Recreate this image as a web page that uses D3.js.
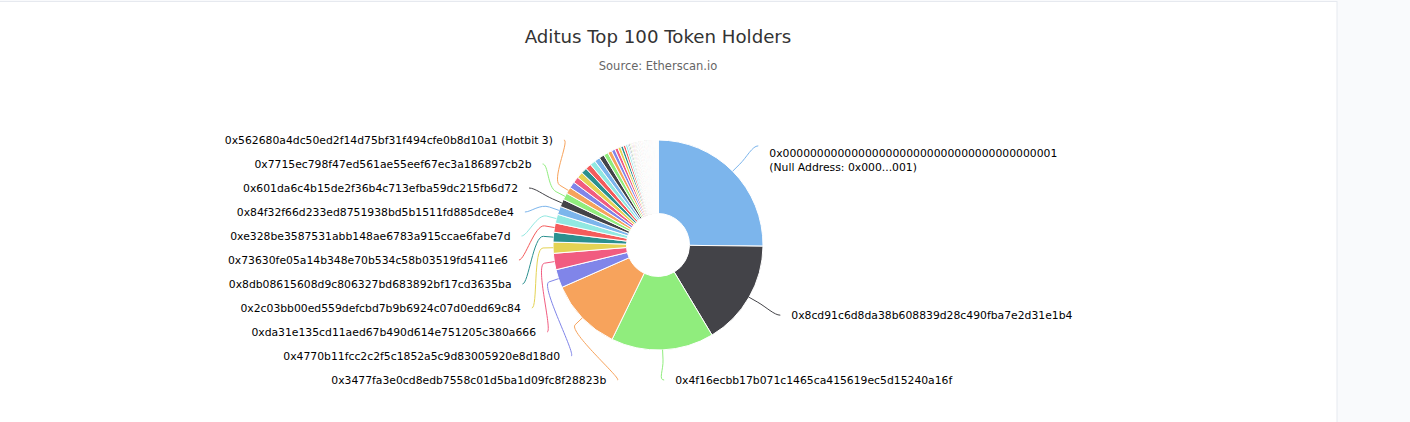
<!DOCTYPE html>
<html>
<head>
<meta charset="utf-8">
<script src="https://cdnjs.cloudflare.com/ajax/libs/d3/7.8.5/d3.min.js"></script>
<style>
  html, body { margin: 0; padding: 0; background: #f9fafc; }
  svg { display: block; font-family: "DejaVu Sans", "Lucida Grande", sans-serif; }
</style>
</head>
<body>
<svg id="chart" width="1410" height="422"></svg>
<script>
var chartTitle = "Aditus Top 100 Token Holders";
var chartSubtitle = "Source: Etherscan.io";

// % of supply per holder, rank 1..100
var shares = [
    25.0, 16.1, 15.7, 11.1, 2.8, 2.5, 1.7, 1.5, 1.4, 1.35,
    1.25, 1.15, 1.05, 1.0, 0.98, 0.95, 0.93, 0.9, 0.88, 0.85,
    0.83, 0.8, 0.7, 0.62, 0.55, 0.5, 0.45, 0.4, 0.36, 0.32,
    0.2, 0.19, 0.18, 0.17, 0.16, 0.15, 0.14, 0.13, 0.12, 0.11,
    0.11, 0.10, 0.10, 0.10, 0.09, 0.09, 0.09, 0.08, 0.08, 0.08,
    0.08, 0.07, 0.07, 0.07, 0.07, 0.07, 0.06, 0.06, 0.06, 0.06,
    0.06, 0.06, 0.05, 0.05, 0.05, 0.05, 0.05, 0.05, 0.05, 0.05,
    0.05, 0.04, 0.04, 0.04, 0.04, 0.04, 0.04, 0.04, 0.04, 0.04,
    0.04, 0.04, 0.04, 0.03, 0.03, 0.03, 0.03, 0.03, 0.03, 0.03,
    0.03, 0.03, 0.03, 0.03, 0.03, 0.03, 0.02, 0.02, 0.02, 0.02
];

// only the biggest 14 holders get a data label
var holderLabels = [
    "0x0000000000000000000000000000000000000001\n(Null Address: 0x000...001)",
    "0x8cd91c6d8da38b608839d28c490fba7e2d31e1b4",
    "0x4f16ecbb17b071c1465ca415619ec5d15240a16f",
    "0x3477fa3e0cd8edb7558c01d5ba1d09fc8f28823b",
    "0x4770b11fcc2c2f5c1852a5c9d83005920e8d18d0",
    "0xda31e135cd11aed67b490d614e751205c380a666",
    "0x2c03bb00ed559defcbd7b9b6924c07d0edd69c84",
    "0x8db08615608d9c806327bd683892bf17cd3635ba",
    "0x73630fe05a14b348e70b534c58b03519fd5411e6",
    "0xe328be3587531abb148ae6783a915ccae6fabe7d",
    "0x84f32f66d233ed8751938bd5b1511fd885dce8e4",
    "0x601da6c4b15de2f36b4c713efba59dc215fb6d72",
    "0x7715ec798f47ed561ae55eef67ec3a186897cb2b",
    "0x562680a4dc50ed2f14d75bf31f494cfe0b8d10a1 (Hotbit 3)"
];

var palette = ["#7cb5ec", "#434348", "#90ed7d", "#f7a35c", "#8085e9",
               "#f15c80", "#e4d354", "#2b908f", "#f45b5b", "#91e8e1"];

var svg = d3.select("#chart");

// card the chart sits in
svg.append("rect")
    .attr("x", -2).attr("y", 1.5)
    .attr("width", 1339).attr("height", 440)
    .attr("fill", "#fff")
    .attr("stroke", "#e6e9ef");

svg.append("text")
    .attr("x", 658).attr("y", 43)
    .attr("text-anchor", "middle")
    .attr("font-size", 18.2)
    .attr("fill", "#333333")
    .text(chartTitle);

svg.append("text")
    .attr("x", 658).attr("y", 70)
    .attr("text-anchor", "middle")
    .attr("font-size", 11.5)
    .attr("fill", "#666666")
    .text(chartSubtitle);

var cx = 658, cy = 245, radius = 105, inner = 31.5;
var labelDist = 36, R = radius + labelDist,
    connOffset = 10, textGap = 11, rowGap = 24;
var labelTop = cy - radius, labelBottom = cy + R - 6;

var pie = d3.pie().sort(null).value(function(d){ return d; });
var arcs = pie(shares);
var arc = d3.arc().innerRadius(inner).outerRadius(radius);

var g = svg.append("g");

g.selectAll("path.slice")
    .data(arcs)
    .join("path")
    .attr("class", "slice")
    .attr("transform", "translate(" + cx + "," + cy + ")")
    .attr("d", arc)
    .attr("fill", function(d, i){ return palette[i % palette.length]; })
    .attr("stroke", "#fff")
    .attr("stroke-width", 1)
    .attr("stroke-linejoin", "round");

var labels = holderLabels.map(function(text, i){
    var a = (arcs[i].startAngle + arcs[i].endAngle) / 2;
    return {
        i: i,
        lines: text.split("\n"),
        a: a,
        left: a > Math.PI,
        natY: cy - R * Math.cos(a)
    };
});

// push labels apart on one side, keep them inside the bounds
function spread(list){
    list.sort(function(p, q){ return p.natY - q.natY; });
    list.forEach(function(p, k){
        p.y = Math.max(p.natY, k ? list[k-1].y + rowGap : labelTop);
    });
    for (var k = list.length - 1; k >= 0; k--){
        var lim = k == list.length - 1 ? labelBottom : list[k+1].y - rowGap;
        if (list[k].y > lim) list[k].y = lim;
    }
}
spread(labels.filter(function(p){ return p.left; }));
spread(labels.filter(function(p){ return !p.left; }));

function edgeX(y, left){
    var dy = Math.max(-R, Math.min(R, y - cy));
    return cx + (left ? -1 : 1) * Math.sqrt(R*R - dy*dy);
}

labels.forEach(function(p){
    var useY = Math.abs(p.natY - cy) > Math.abs(p.y - cy) ? p.natY : p.y;
    p.xc = edgeX(useY, p.left);
    var s = Math.sin(p.a), c = Math.cos(p.a);
    p.p4 = [cx + radius * s, cy - radius * c];
    p.p2 = [cx + (radius + connOffset) * s, cy - (radius + connOffset) * c];
});

var dl = svg.append("g");

dl.selectAll("path.conn")
    .data(labels)
    .join("path")
    .attr("class", "conn")
    .attr("fill", "none")
    .attr("stroke", function(p){ return palette[p.i % palette.length]; })
    .attr("stroke-width", 1)
    .attr("d", function(p){
        var dir = p.left ? 1 : -1;
        var path = d3.path();
        path.moveTo(p.xc, p.y);
        path.bezierCurveTo(p.xc + dir * 6, p.y,
            2 * p.p2[0] - p.p4[0], 2 * p.p2[1] - p.p4[1],
            p.p2[0], p.p2[1]);
        path.lineTo(p.p4[0], p.p4[1]);
        return path.toString();
    });

var txt = dl.selectAll("text.lbl")
    .data(labels)
    .join("text")
    .attr("class", "lbl")
    .attr("font-size", 10.8)
    .attr("fill", "#000")
    .attr("text-anchor", function(p){ return p.left ? "end" : "start"; });

txt.each(function(p){
    var t = d3.select(this);
    var x = p.xc + (p.left ? -textGap : textGap);
    var y0 = p.y + (p.lines.length - 1) * 7;
    p.lines.forEach(function(line, k){
        t.append("tspan")
            .attr("x", x)
            .attr("y", y0 + k * 14.5)
            .attr("dy", "0.35em")
            .text(line);
    });
});
</script>
</body>
</html>
